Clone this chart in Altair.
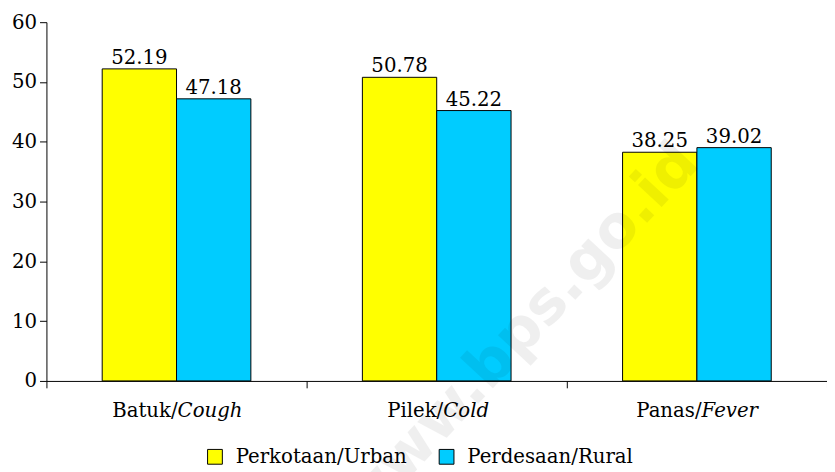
import altair as alt
import pandas as pd

categories = ["Batuk/Cough", "Pilek/Cold", "Panas/Fever"]
label_normal = ["Batuk/", "Pilek/", "Panas/"]
label_italic = ["Cough", "Cold", "Fever"]
series = ["Perkotaan/Urban", "Perdesaan/Rural"]
urban = [52.19, 50.78, 38.25]
rural = [47.18, 45.22, 39.02]
colors = ["#FFFF00", "#00CCFF"]

FONT = "DejaVu Serif"
FS = 20

rows = []
for c, u, r in zip(categories, urban, rural):
    rows.append({"cat": c, "series": series[0], "value": u})
    rows.append({"cat": c, "series": series[1], "value": r})
df = pd.DataFrame(rows)

# approximate DejaVu Serif glyph widths (em) used to centre the mixed-style labels
W = {"B": 0.735, "a": 0.596, "t": 0.402, "u": 0.640, "k": 0.637, "/": 0.337, "P": 0.733,
     "i": 0.320, "l": 0.320, "e": 0.592, "n": 0.640, "s": 0.513, "C": 0.715, "o": 0.602,
     "g": 0.635, "h": 0.644, "d": 0.640, "F": 0.715, "v": 0.565, "r": 0.478}


def width(s):
    return sum(W.get(ch, 0.6) for ch in s) * FS


x_enc = alt.X("cat:N", sort=categories,
              scale=alt.Scale(paddingInner=0, paddingOuter=0),
              axis=alt.Axis(labels=False, title=None, tickBand="extent", tickSize=7,
                            domainColor="black", tickColor="black", grid=False))
y_enc = alt.Y("value:Q", scale=alt.Scale(domain=[0, 60], nice=False),
              axis=alt.Axis(values=[0, 10, 20, 30, 40, 50, 60], title=None, grid=False,
                            tickSize=7, domainColor="black", tickColor="black",
                            labelFont=FONT, labelFontSize=FS, labelColor="black",
                            labelPadding=3))

base = alt.Chart(df)

bars = base.mark_bar(stroke="black", strokeWidth=1).encode(
    x=x_enc,
    xOffset=alt.XOffset("series:N", sort=series,
                        scale=alt.Scale(paddingInner=0, paddingOuter=0.75)),
    y=y_enc,
    color=alt.Color("series:N", sort=series,
                    scale=alt.Scale(domain=series, range=colors),
                    legend=alt.Legend(orient="none", legendX=161, legendY=431,
                                      direction="horizontal", title=None,
                                      symbolType="square", symbolSize=225,
                                      symbolStrokeColor="black", symbolStrokeWidth=1,
                                      symbolOpacity=1,
                                      labelFont=FONT, labelFontSize=FS,
                                      labelColor="black", labelOffset=11,
                                      columnPadding=30, labelLimit=400)),
)

values = base.mark_text(font=FONT, fontSize=FS, color="black", baseline="alphabetic",
                        dy=-5).encode(
    x=alt.X("cat:N", sort=categories),
    xOffset=alt.XOffset("series:N", sort=series),
    y="value:Q",
    text=alt.Text("value:Q", format=".2f"),
)

lbl_df = pd.DataFrame({"cat": categories, "normal": label_normal, "italic": label_italic})
label_layers = []
for c, n, it in zip(categories, label_normal, label_italic):
    shift = (width(n) - width(it)) / 2.0
    sub = alt.Chart(lbl_df).transform_filter(alt.datum.cat == c)
    label_layers.append(sub.mark_text(font=FONT, fontSize=FS, color="black", align="right",
                                      baseline="alphabetic", dy=37, dx=shift).encode(
        x=alt.X("cat:N", sort=categories), y=alt.datum(0), text="normal:N"))
    label_layers.append(sub.mark_text(font=FONT, fontSize=FS, color="black", align="left",
                                      fontStyle="italic", baseline="alphabetic", dy=37,
                                      dx=shift).encode(
        x=alt.X("cat:N", sort=categories), y=alt.datum(0), text="italic:N"))

wm_df = pd.DataFrame({"cat": [categories[1]], "t": ["www.bps.go.id"]})
watermark = alt.Chart(wm_df).mark_text(font="DejaVu Sans",
                                       fontWeight="bold", fontSize=60,
                                       angle=313, color="black", opacity=0.06,
                                       dx=51, dy=68).encode(
    x=alt.X("cat:N", sort=categories), y=alt.datum(9.5), text="t:N")

chart = alt.layer(bars, watermark, values, *label_layers).properties(
    width=792, height=364,
    padding={"left": 39, "top": 11, "right": 0, "bottom": 89},
    autosize=alt.AutoSizeParams(type="none"),
).configure_view(stroke=None)

chart.save("out.html", embed_options={"renderer": "svg", "actions": False})
